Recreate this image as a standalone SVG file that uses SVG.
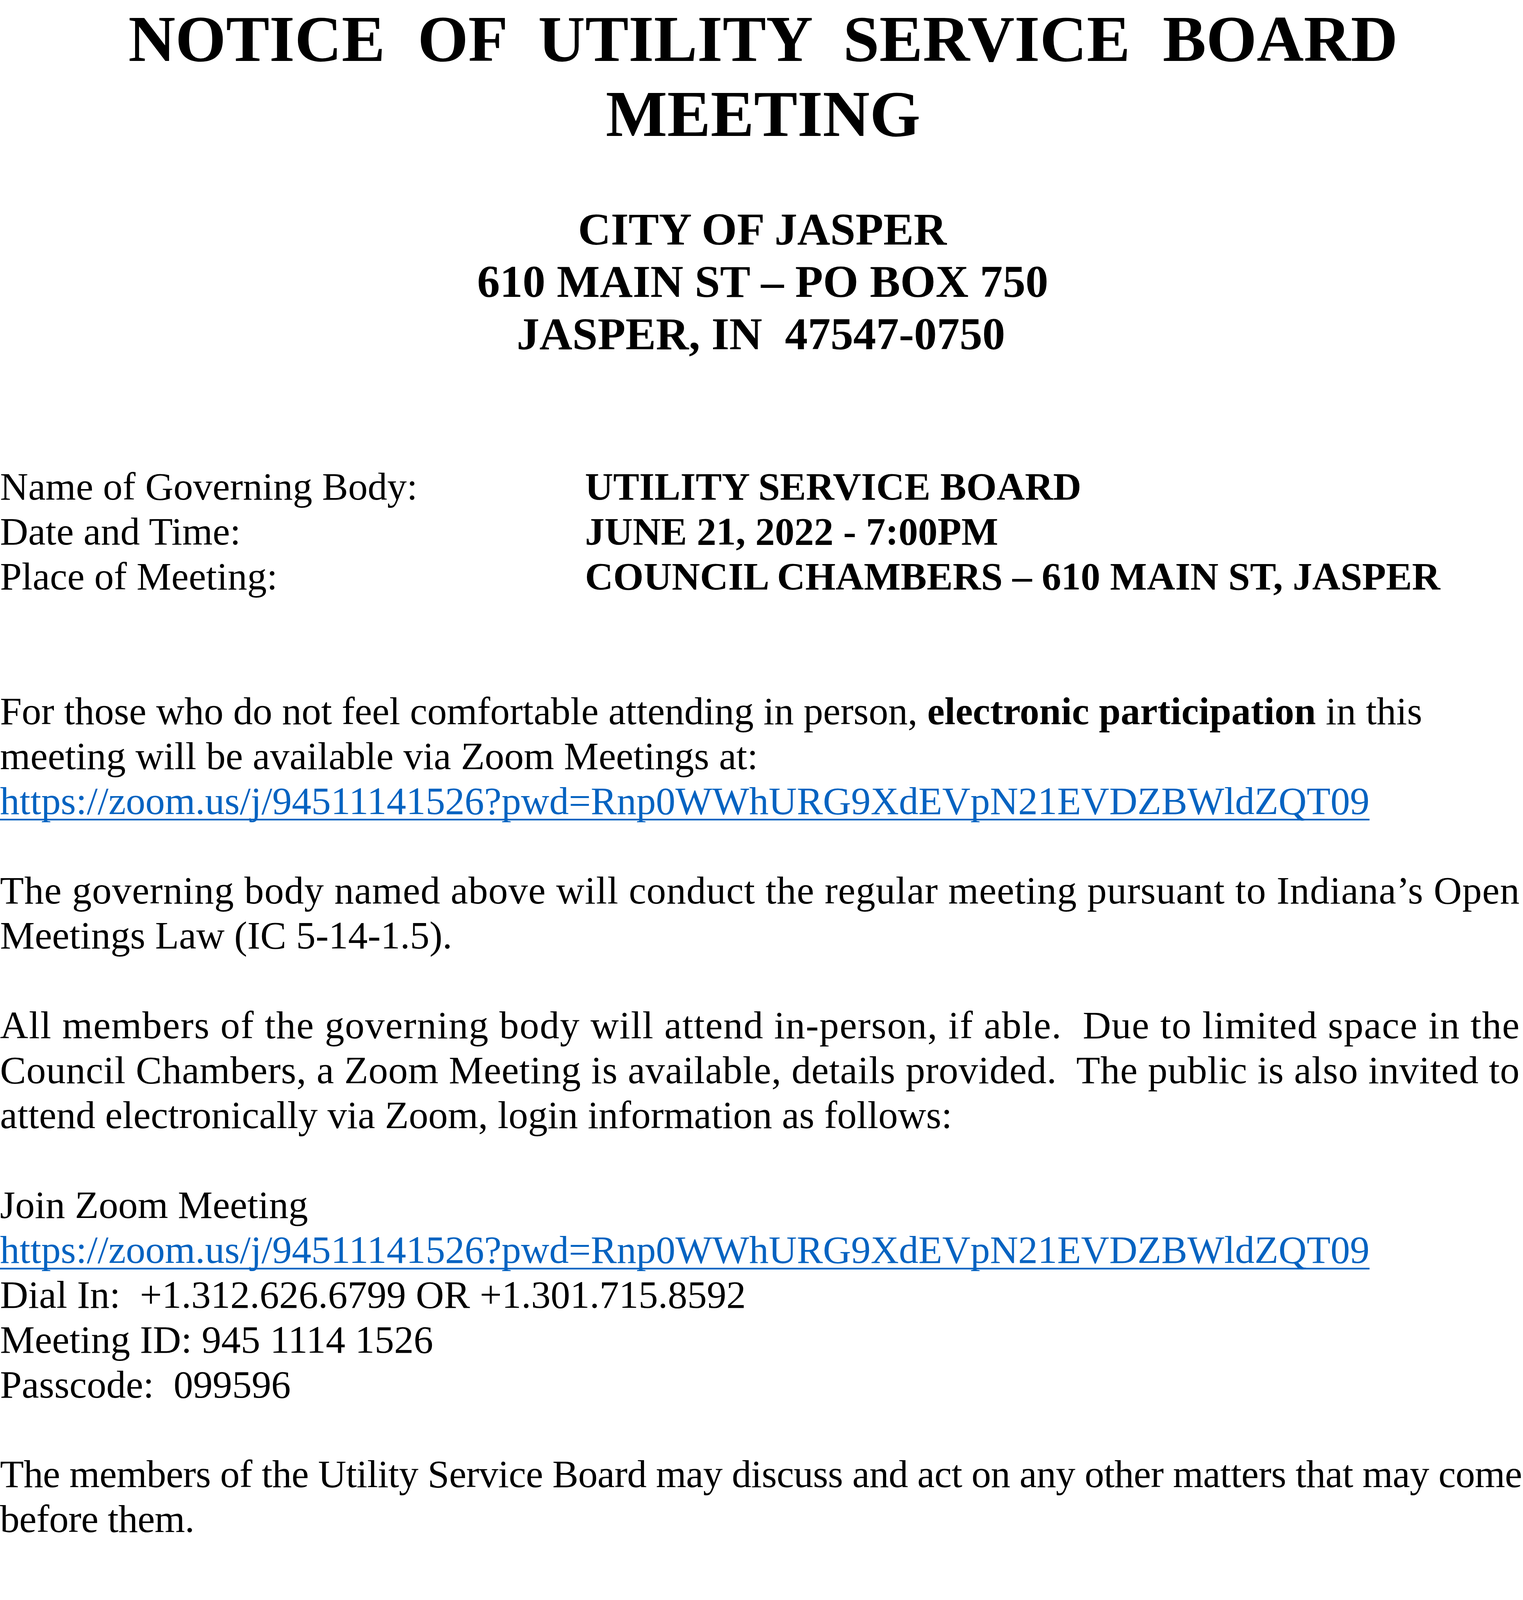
<svg xmlns="http://www.w3.org/2000/svg" width="3900" height="4520" viewBox="0 0 3900 4520">
<style>
text{font-family:"Liberation Serif","Times New Roman",serif;fill:#000;font-size:100px}
.b{font-weight:bold}
.title{font-size:166.67px;font-weight:bold}
.addr{font-size:116.67px;font-weight:bold}
.mid{text-anchor:middle}
.link{fill:#0563C1}
.ul{fill:#0563C1}
</style>
<rect x="0" y="0" width="3900" height="4520" fill="#fff"/>
<g id="title">
<text class="title mid" x="1954" y="156" xml:space="preserve">NOTICE  OF  UTILITY  SERVICE  BOARD</text>
<text class="title mid" x="1954" y="347.5">MEETING</text>
</g>
<g id="address">
<text class="addr mid" x="1952" y="626">CITY OF JASPER</text>
<text class="addr mid" x="1953" y="760">610 MAIN ST – PO BOX 750</text>
<text class="addr" x="1323" y="894" xml:space="preserve">JASPER, IN  47547-0750</text>
</g>
<g id="fields">
<text x="0" y="1279">Name of Governing Body:</text>
<text class="b" x="1498" y="1279">UTILITY SERVICE BOARD</text>
<text x="0" y="1394">Date and Time:</text>
<text class="b" x="1498" y="1394">JUNE 21, 2022 - 7:00PM</text>
<text x="0" y="1509">Place of Meeting:</text>
<text class="b" x="1498" y="1509">COUNCIL CHAMBERS – 610 MAIN ST, JASPER</text>
</g>
<g id="electronic-participation">
<text x="0" y="1854" xml:space="preserve">For those who do not feel comfortable attending in person, <tspan class="b">electronic participation</tspan> in this</text>
<text x="0" y="1969">meeting will be available via Zoom Meetings at:</text>
<text class="link" x="0" y="2083.5" textLength="3507" lengthAdjust="spacing">https://zoom.us/j/94511141526?pwd=Rnp0WWhURG9XdEVpN21EVDZBWldZQT09</text>
<rect class="ul" x="0" y="2096" width="3507" height="4.3"/>
</g>
<g id="open-meetings">
<text x="0" y="2313" textLength="3891" lengthAdjust="spacing">The governing body named above will conduct the regular meeting pursuant to Indiana’s Open</text>
<text x="0" y="2428">Meetings Law (IC 5-14-1.5).</text>
</g>
<g id="attendance">
<text x="0" y="2658" textLength="3891" lengthAdjust="spacing" xml:space="preserve">All members of the governing body will attend in-person, if able.  Due to limited space in the</text>
<text x="0" y="2773" textLength="3891" lengthAdjust="spacing" xml:space="preserve">Council Chambers, a Zoom Meeting is available, details provided.  The public is also invited to</text>
<text x="0" y="2888">attend electronically via Zoom, login information as follows:</text>
</g>
<g id="zoom-details">
<text x="0" y="3118">Join Zoom Meeting</text>
<text class="link" x="0" y="3233" textLength="3507" lengthAdjust="spacing">https://zoom.us/j/94511141526?pwd=Rnp0WWhURG9XdEVpN21EVDZBWldZQT09</text>
<rect class="ul" x="0" y="3245.5" width="3507" height="4.3"/>
<text x="0" y="3348" xml:space="preserve">Dial In:  +1.312.626.6799 OR +1.301.715.8592</text>
<text x="0" y="3463">Meeting ID: 945 1114 1526</text>
<text x="0" y="3578" xml:space="preserve">Passcode:  099596</text>
</g>
<g id="other-matters">
<text x="0" y="3807" textLength="3898" lengthAdjust="spacing">The members of the Utility Service Board may discuss and act on any other matters that may come</text>
<text x="0" y="3922" letter-spacing="-0.65">before them.</text>
</g>
<g id="signature">
<text x="0" y="4267">Ashley Kiefer</text>
<text x="0" y="4382">Office Manager</text>
<text x="0" y="4497">June 16, 2022</text>
</g>
</svg>
